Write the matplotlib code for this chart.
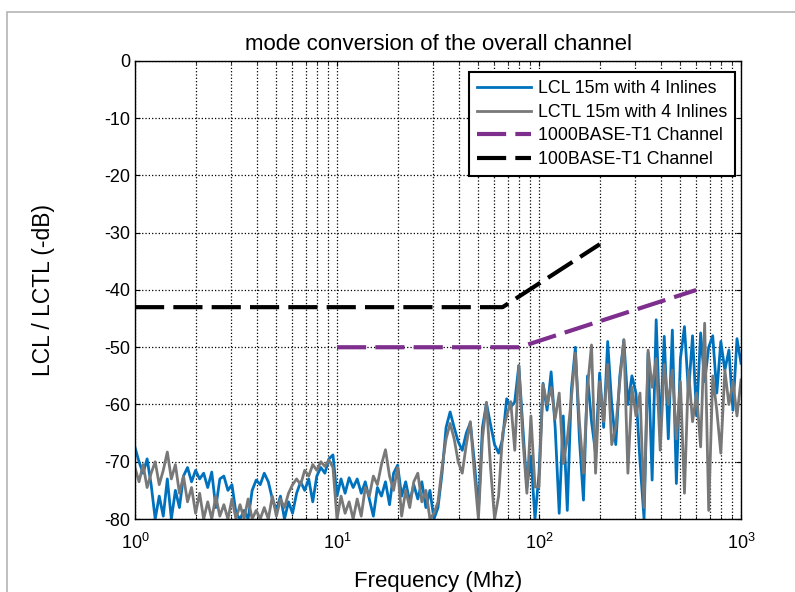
import numpy as np
import matplotlib
matplotlib.use('Agg')
import matplotlib.pyplot as plt
from matplotlib.patches import Rectangle

plt.rcParams['font.family'] = ['Liberation Sans', 'DejaVu Sans']
plt.rcParams['axes.unicode_minus'] = False

# measurement grid (MHz), 151 log-spaced points from 1 to 1000
freq = np.logspace(0, 3, 151)

# LCL 15m with 4 Inlines (dB)
lcl = [
    -67.5, -70, -72, -69.5, -74, -80, -76, -79.5, -73, -80,
    -75, -78, -72.5, -71, -73.5, -71.5, -73, -72, -74.5, -71.8,
    -78, -73, -72.5, -75, -74, -79, -80, -78.5, -80, -75,
    -73.2, -74, -72, -73.5, -76.5, -78.5, -76, -80, -77, -79,
    -75.5, -73.5, -75, -73, -77, -72.5, -71, -72, -69.5, -68.8,
    -76, -73, -75.5, -72.8, -74.5, -73, -75.5, -73.5, -76.5, -79.5,
    -74.5, -76, -73.5, -77.5, -72, -70.6, -76, -73.5, -77, -74,
    -76.5, -73.5, -78, -75, -80, -78, -72, -64, -61.3, -64,
    -66.5, -68, -65, -63.2, -70, -78.5, -64, -59.8, -63.5, -67,
    -68.5, -66, -59, -60.5, -59.5, -53.2, -64, -74.5, -69, -80,
    -72, -56.3, -61, -54.3, -64, -79, -62, -78.5, -57.5, -50,
    -66, -76.7, -55, -63, -68.5, -54.5, -64, -49, -60, -67,
    -55, -48.7, -60, -55, -58, -70, -80, -51, -73.2, -45.2,
    -65, -48.1, -66, -47, -73.8, -52, -46.4, -58, -48, -62,
    -47.5, -56, -50, -48, -58, -49, -54, -50.5, -61, -48.5,
    -52.8,
]

# LCTL 15m with 4 Inlines (dB)
lctl = [
    -71, -73.5, -70.5, -74.5, -72, -70, -74, -71.5, -68.3, -73,
    -70.5, -75.5, -72.5, -77, -74.5, -79, -75.5, -80, -77, -80,
    -76, -79.5, -77.5, -80, -76.5, -80, -77.5, -80, -76.5, -80,
    -78.5, -80, -78, -80, -76, -79.5, -76.5, -78, -75.5, -74,
    -73, -74, -71.5, -72.5, -70.5, -71.5, -70, -70.8, -69.7, -71,
    -80, -76, -79, -77, -80, -76.5, -79.5, -74.5, -76, -72.5,
    -74, -70.5, -67.9, -72.5, -75, -71, -79.5, -75, -78, -73.5,
    -72, -77, -75, -80, -79, -77, -71, -66, -63.3, -66,
    -70, -72, -67, -63, -72, -80, -66, -59.6, -71, -80,
    -76, -65, -62, -59.5, -68, -53.2, -66, -75.5, -62, -74.4,
    -74.4, -56.5, -60, -57, -62.5, -58, -70.3, -66, -59, -51,
    -63, -72, -57, -49.6, -72, -56, -63, -53, -67, -64,
    -56, -48.7, -72, -57, -62, -58, -78, -50.5, -57, -52,
    -68, -53, -60, -54, -66, -56, -75.5, -54, -63, -58,
    -67.4, -45.8, -78.5, -55, -61, -68.5, -54, -60, -56, -62,
    -55.7,
]

# limit lines
t1000_f = [10, 80, 600]
t1000_db = [-50, -50, -40]
t100_f = [1, 66, 200]
t100_db = [-43, -43, -32]

fig = plt.figure(figsize=(7.95, 5.92), dpi=100)
ax = fig.add_axes([0.1698, 0.1233, 0.7623, 0.7737])

# light gray frame at the top/left of the picture
fig.patches.append(Rectangle((7 / 795, -0.01), 1.0, 1 - 12 / 592 + 0.01,
                             transform=fig.transFigure, fill=False,
                             edgecolor='#b4b4b4', linewidth=1.2))

ax.plot(freq, lcl, color='#0072BD', lw=2.0, label='LCL 15m with 4 Inlines')
ax.plot(freq, lctl, color='#787878', lw=2.0, label='LCTL 15m with 4 Inlines')
ax.plot(t1000_f, t1000_db, color='#7E2F8E', lw=3, dashes=(7, 2.2),
        label='1000BASE-T1 Channel')
ax.plot(t100_f, t100_db, color='black', lw=3, dashes=(7, 2.2),
        label='100BASE-T1 Channel')

ax.set_xscale('log')
ax.set_xlim(1, 1000)
ax.set_ylim(-80, 0)
ax.set_yticks(np.arange(-80, 1, 10))
ax.set_yticklabels([str(v) for v in range(-80, 1, 10)])

ax.grid(True, which='major', axis='both', color='black', linestyle=':', lw=0.9)
ax.grid(True, which='minor', axis='x', color='black', linestyle=':', lw=0.9)
ax.tick_params(which='both', direction='in', top=True, right=True, labelsize=13)
ax.tick_params(axis='x', pad=10)
for s in ax.spines.values():
    s.set_linewidth(1.0)

ax.set_title('mode conversion of the overall channel', fontsize=16, pad=8)
ax.set_xlabel('Frequency (Mhz)', fontsize=16, labelpad=13)
ax.set_ylabel('LCL / LCTL (-dB)', fontsize=16.5, labelpad=35)

leg = ax.legend(loc='upper right', bbox_to_anchor=(0.990, 0.976), fontsize=12.8,
                handlelength=3.0, handletextpad=0.4, labelspacing=0.38,
                borderpad=0.45, borderaxespad=0.0,
                fancybox=False, framealpha=1, edgecolor='black')
leg.get_frame().set_linewidth(1.5)

fig.savefig('out.png', dpi=100)
